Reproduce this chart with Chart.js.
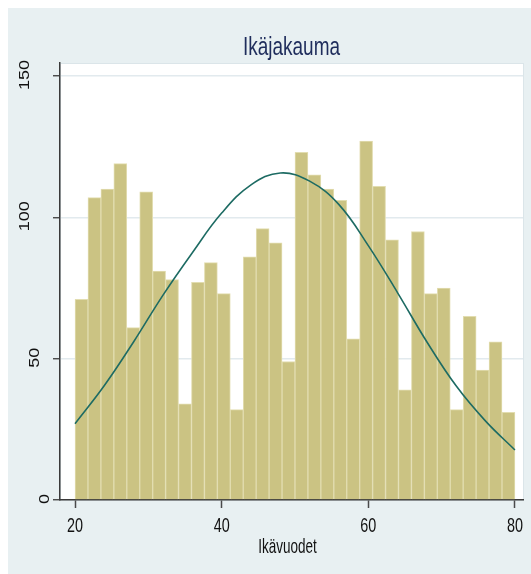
<!DOCTYPE html>
<html>
<head>
<meta charset="utf-8">
<title>Ikäjakauma</title>
<script src="https://cdn.jsdelivr.net/npm/chart.js@4.4.0/dist/chart.umd.min.js"></script>
<style>
    html, body { margin: 0; padding: 0; background: #fff; }
    canvas { display: block; }
</style>
</head>
<body>
<canvas id="age-chart" width="531" height="574"></canvas>
<script>
// Histogram bins (34 bins from 20 to 80)
const binStart = 20;
const binWidth = 60 / 34;
const ageCounts = [71, 107, 110, 119, 61, 109, 81, 78, 34, 77, 84, 73, 32, 86, 96, 91, 49,
                   123, 115, 110, 106, 57, 127, 111, 92, 39, 95, 73, 75, 32, 65, 46, 56, 31];

// Normal curve
const curveAges = [20, 24, 28, 32, 36, 40, 44, 48, 52, 56, 60, 64, 68, 72, 76, 80];
const curveValues = [27, 40.5, 56, 72.5, 87.5, 101.5, 111.5, 115.7, 112.8, 104.5, 90, 73.3, 55.9, 40.3, 27.9, 17.7];

// Axes
const xTicks = [20, 40, 60, 80];
const yTicks = [0, 50, 100, 150];
const chartTitle = 'Ikäjakauma';
const xTitle = 'Ikävuodet';

const fontFamily = "'Liberation Sans', Arial, sans-serif";

const barData = ageCounts.map((count, i) => ({ x: binStart + binWidth * (i + 0.5), y: count }));
const curveData = curveAges.map((age, i) => ({ x: age, y: curveValues[i] }));

// draws text stretched like the original (tall, narrow)
function drawText(ctx, text, x, y, size, sx, sy, rotation, color, align, baseline) {
    ctx.save();
    ctx.translate(x, y);
    if (rotation) ctx.rotate(rotation);
    ctx.scale(sx, sy);
    ctx.font = size + 'px ' + fontFamily;
    ctx.fillStyle = color;
    ctx.textAlign = align;
    ctx.textBaseline = baseline;
    ctx.fillText(text, 0, 0);
    ctx.restore();
}

const backgroundPlugin = {
    id: 'stataBackground',
    beforeDraw(chart) {
        const { ctx, chartArea: a, width, height } = chart;
        ctx.save();
        ctx.fillStyle = '#ffffff';
        ctx.fillRect(0, 0, width, height);
        ctx.fillStyle = '#e8f0f2';
        ctx.fillRect(8, 8, width - 8, height - 8);
        ctx.fillStyle = '#ffffff';
        ctx.fillRect(a.left, a.top, a.right - a.left, a.bottom - a.top);
        ctx.strokeStyle = '#dbe5e9';
        ctx.lineWidth = 1;
        ctx.strokeRect(a.left + 0.5, a.top + 0.5, a.right - a.left, a.bottom - a.top);
        ctx.restore();
    }
};

const labelPlugin = {
    id: 'stataLabels',
    afterDraw(chart) {
        const { ctx, chartArea: a } = chart;
        const xScale = chart.scales.x;
        const yScale = chart.scales.y;
        const midX = (a.left + a.right) / 2;

        // Title
        drawText(ctx, chartTitle, midX, 54.5, 19, 1, 1.37, 0, '#1f2d5c', 'center', 'alphabetic');

        // X tick labels
        xTicks.forEach(v => {
            drawText(ctx, String(v), xScale.getPixelForValue(v), 532, 14.4, 1, 1.37, 0, '#111', 'center', 'alphabetic');
        });

        // X axis title
        drawText(ctx, xTitle, midX - 4, 553, 13.5, 1, 1.5, 0, '#111', 'center', 'alphabetic');

        // Y tick labels, rotated
        ctx.save();
        ctx.font = '15px ' + fontFamily;
        yTicks.forEach(v => {
            const label = String(v);
            const w = ctx.measureText(label).width * 1.2;
            drawText(ctx, label, a.left - 5 - w, yScale.getPixelForValue(v) - 1, 15, 1.2, 1, -Math.PI / 2, '#111', 'center', 'middle');
        });
        ctx.restore();
    }
};

const ageCanvas = document.getElementById('age-chart');
let ageChart = new Chart(ageCanvas, {
    type: 'bar',
    data: {
        datasets: [{
            type: 'line',
            label: 'Normaalijakauma',
            data: curveData,
            borderColor: '#1d6b63',
            borderWidth: 1.6,
            pointRadius: 0,
            tension: 0.4,
            fill: false,
            order: 0
        }, {
            type: 'bar',
            label: 'Frekvenssi',
            data: barData,
            backgroundColor: '#cbc383',
            borderColor: '#e2ddb0',
            borderWidth: 1,
            barPercentage: 1,
            categoryPercentage: 1,
            order: 1
        }]
    },
    options: {
        responsive: false,
        animation: false,
        devicePixelRatio: 1,
        layout: {
            padding: { left: 53, right: 8, top: 63, bottom: 66 }
        },
        scales: {
            x: {
                type: 'linear',
                min: 17.95,
                max: 81.1,
                offset: false,
                afterBuildTicks: axis => { axis.ticks = xTicks.map(v => ({ value: v })); },
                grid: {
                    drawOnChartArea: false,
                    offset: false,
                    tickLength: 8,
                    tickColor: '#4a4a4a',
                    tickWidth: 1.5
                },
                border: { color: '#3a3a3a', width: 1.5 },
                ticks: { display: false }
            },
            y: {
                type: 'linear',
                min: 0,
                max: 154.6,
                afterBuildTicks: axis => { axis.ticks = yTicks.map(v => ({ value: v })); },
                grid: {
                    color: c => (c.tick && c.tick.value === 0) ? 'rgba(0,0,0,0)' : '#e2eaee',
                    lineWidth: 1.5,
                    tickLength: 7,
                    tickColor: '#3a3a3a',
                    tickWidth: 1.3
                },
                border: { color: '#3a3a3a', width: 1.5 },
                ticks: { display: false }
            }
        },
        plugins: {
            legend: { display: false },
            tooltip: { enabled: false }
        }
    },
    plugins: [backgroundPlugin, labelPlugin]
});
</script>
</body>
</html>
